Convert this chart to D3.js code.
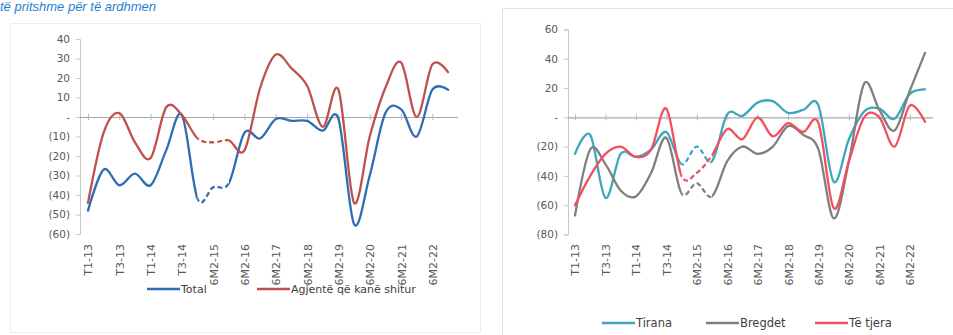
<!DOCTYPE html>
<html>
<head>
<meta charset="utf-8">
<script src="https://cdn.jsdelivr.net/npm/d3@7"></script>
<style>
  body { margin: 0; background: #fff; }
  svg { display: block; }
  text { font-family: "DejaVu Sans", sans-serif; }
</style>
</head>
<body>
<svg id="chart" width="953" height="335"></svg>
<script>
// Periods: quarters for 2013-2014, then half-years
const periods = ["T1-13","T2-13","T3-13","T4-13","T1-14","T2-14","T3-14","T4-14",
  "6M2-15","6M1-16","6M2-16","6M1-17","6M2-17","6M1-18","6M2-18","6M1-19",
  "6M2-19","6M1-20","6M2-20","6M1-21","6M2-21","6M1-22","6M2-22","6M1-23"];
const shownLabels = ["T1-13","T3-13","T1-14","T3-14","6M2-15","6M2-16","6M2-17",
  "6M2-18","6M2-19","6M2-20","6M2-21","6M2-22"];

// Left panel series
const total     = [-48,-27,-35,-29,-35,-17,1,-42,-36,-34,-8,-11,-1,-2,-2,-7,-1,-55,-30,2,4,-10,14,14];
const agjentet  = [-44,-8,2,-13,-21,5,1,-11,-13,-12,-17,15,32,25,16,-5,14,-44,-10,15,28,0,27,23];

// Right panel series
const tirana    = [-25,-12,-55,-25,-27,-22,-10,-32,-20,-30,2,1,10,11,3,5,8,-44,-15,4,6,-1,16,19];
const bregdet   = [-67,-22,-32,-50,-54,-38,-14,-52,-45,-54,-30,-20,-25,-20,-6,-12,-22,-69,-30,23,5,-9,18,44];
const teTjera   = [-60,-40,-25,-20,-27,-22,6,-40,-38,-26,-8,-15,0,-13,-4,-10,-4,-62,-30,0,0,-20,8,-3];

const leftTicks  = [40,30,20,10,0,-10,-20,-30,-40,-50,-60];
const rightTicks = [60,40,20,0,-20,-40,-60,-80];

// Estimated stretch drawn dashed (between these period indices)
const dashStart = 7, dashEnd = 9;

const svg = d3.select("#chart");

// Heading line above the panels
svg.append("text")
  .attr("x", 0).attr("y", 11)
  .attr("fill", "#1f7fd0")
  .attr("font-style", "italic")
  .attr("font-size", 13)
  .style("font-family", "'Liberation Sans', Arial, sans-serif")
  .text("të pritshme për të ardhmen");

// Panel frames
svg.append("rect").attr("x", 10.5).attr("y", 23.5).attr("width", 470).attr("height", 309)
  .attr("fill", "none").attr("stroke", "#ececec");
svg.append("rect").attr("x", 502.5).attr("y", 8.5).attr("width", 460).attr("height", 340)
  .attr("fill", "none").attr("stroke", "#e2e2e2");

const fmt = v => v === 0 ? "-" : (v < 0 ? "(" + Math.abs(v) + ")" : String(v));
const curve = d3.curveCardinal.tension(0);
let clipId = 0;

function panel(cfg) {
  const g = svg.append("g");
  const x = d3.scalePoint().domain(periods).range(cfg.xRange);
  const y = d3.scaleLinear().domain(cfg.yDomain).range(cfg.yRange);

  // y axis
  const ya = g.append("g")
    .attr("transform", `translate(${cfg.axisX},0)`)
    .call(d3.axisLeft(y).tickValues(cfg.ticks).tickFormat(fmt).tickSize(4).tickPadding(6));
  ya.select(".domain").attr("stroke", "#c8c8c8");
  ya.selectAll(".tick line").attr("stroke", "#c8c8c8");
  ya.selectAll(".tick text").attr("fill", "#595959").attr("font-size", 10.5)
    .style("font-family", "'DejaVu Sans', sans-serif");

  // category axis along zero
  const zx = g.append("g")
    .attr("transform", `translate(0,${y(0)})`)
    .call(d3.axisBottom(x).tickValues(shownLabels).tickFormat("").tickSize(3));
  zx.select(".domain").attr("d", `M${cfg.axisX},0.5H${cfg.zeroEnd}`).attr("stroke", "#a8a8a8").attr("stroke-width", 1.2);
  zx.selectAll(".tick line").attr("stroke", "#b8b8b8").attr("y1", -3);

  // rotated period labels
  const lx = g.append("g")
    .attr("transform", `translate(0,${cfg.labelTop})`)
    .call(d3.axisBottom(x).tickValues(shownLabels).tickSize(0).tickPadding(0));
  lx.select(".domain").remove();
  lx.selectAll(".tick text")
    .attr("transform", "rotate(-90)")
    .attr("text-anchor", "end")
    .attr("x", 0).attr("y", 0).attr("dy", "0.36em")
    .attr("fill", "#595959").attr("font-size", 11)
    .style("font-family", "'DejaVu Sans', sans-serif");

  // clip regions: solid outside the estimated stretch, dashed inside
  const x0 = x(periods[dashStart]), x1 = x(periods[dashEnd]);
  const defs = svg.append("defs");
  const idA = "clipA" + (++clipId), idB = "clipB" + clipId, idD = "clipD" + clipId;
  defs.append("clipPath").attr("id", idA).append("rect").attr("x", 0).attr("y", 0).attr("width", x0).attr("height", 335);
  defs.append("clipPath").attr("id", idB).append("rect").attr("x", x1).attr("y", 0).attr("width", 953 - x1).attr("height", 335);
  defs.append("clipPath").attr("id", idD).append("rect").attr("x", x0).attr("y", 0).attr("width", x1 - x0).attr("height", 335);

  const line = d3.line().x((d, i) => x(periods[i])).y(d => y(d)).curve(curve);

  cfg.series.forEach(s => {
    [idA, idB].forEach(id => {
      g.append("path").datum(s.values).attr("d", line)
        .attr("clip-path", `url(#${id})`)
        .attr("fill", "none").attr("stroke", s.color).attr("stroke-width", 2.3)
        .attr("stroke-linejoin", "round").attr("stroke-linecap", "round");
    });
    g.append("path").datum(s.values).attr("d", line)
      .attr("clip-path", `url(#${idD})`)
      .attr("fill", "none").attr("stroke", s.color).attr("stroke-width", 2.3)
      .attr("stroke-dasharray", "5,3");
  });

  // legend
  cfg.series.forEach(s => {
    const lg = g.append("g").attr("transform", `translate(${s.legendX},${cfg.legendY})`);
    lg.append("line").attr("x1", 0).attr("x2", 33).attr("y1", 0).attr("y2", 0)
      .attr("stroke", s.color).attr("stroke-width", 2.3);
    lg.append("text").attr("x", 34).attr("y", 0).attr("dy", "0.36em")
      .attr("fill", "#404040").attr("font-size", cfg.legendSize).text(s.name);
  });
}

panel({
  xRange: [88, 448], yDomain: [-60, 40], yRange: [234, 39],
  axisX: 80, zeroEnd: 458, ticks: leftTicks, labelTop: 244,
  legendY: 289, legendSize: 11,
  series: [
    { name: "Total", values: total, color: "#2f6db3", legendX: 147 },
    { name: "Agjentë që kanë shitur", values: agjentet, color: "#c0504d", legendX: 257 }
  ]
});

panel({
  xRange: [575, 925], yDomain: [-80, 60], yRange: [234.5, 29.4],
  axisX: 568, zeroEnd: 933, ticks: rightTicks, labelTop: 244,
  legendY: 323, legendSize: 11.5,
  series: [
    { name: "Tirana", values: tirana, color: "#3ea6bd", legendX: 602 },
    { name: "Bregdet", values: bregdet, color: "#7f7f7f", legendX: 706 },
    { name: "Të tjera", values: teTjera, color: "#f0505e", legendX: 815 }
  ]
});
</script>
</body>
</html>
